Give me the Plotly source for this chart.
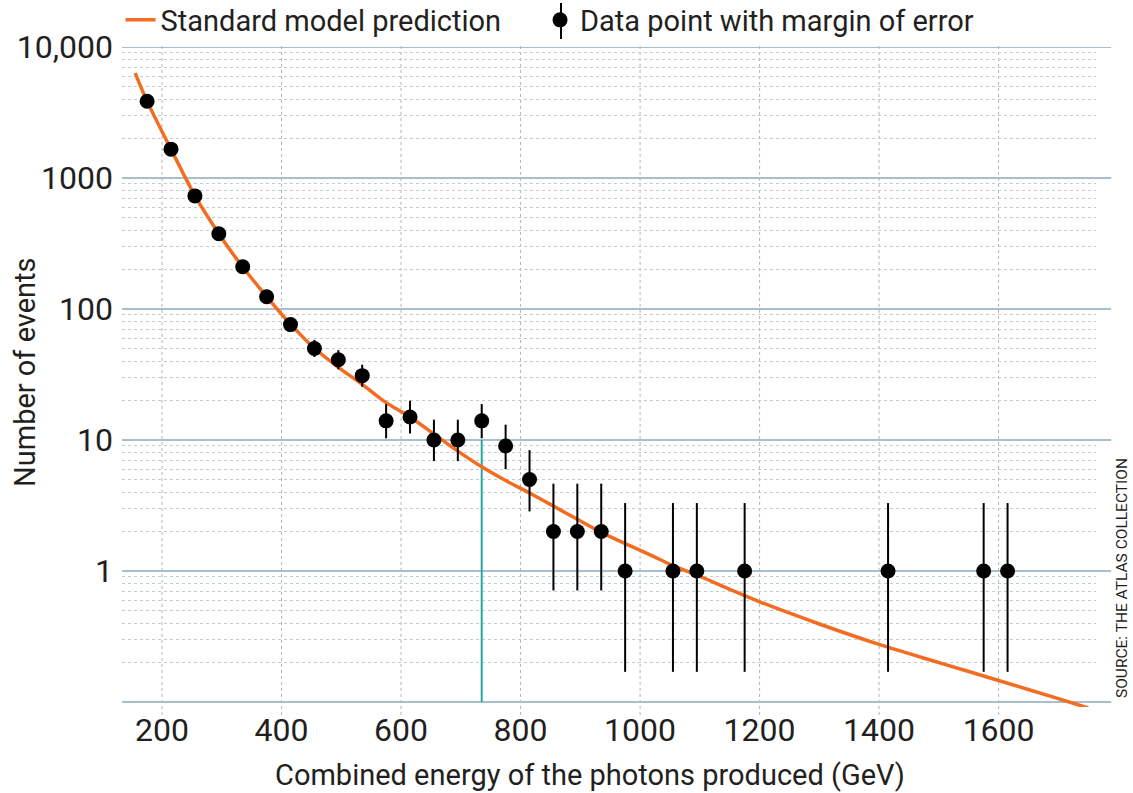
import plotly.graph_objects as go

# ---- data ----
energy = [175, 215, 255, 295, 335, 375, 415, 455, 495, 535, 575, 615, 655, 695,
          735, 775, 815, 855, 895, 935, 975, 1055, 1095, 1175, 1415, 1575, 1615]
events = [3850, 1660, 730, 375, 210, 124, 76, 50, 41, 31, 14, 15, 10, 10,
          14, 9, 5, 2, 2, 2, 1, 1, 1, 1, 1, 1, 1]
err_upper = [3913, 1701, 757.5, 395.4, 225.5, 136.2, 85.8, 58.1, 48.5, 37.6, 18.8, 19.95, 14.3, 14.3,
             18.8, 13.1, 8.37, 4.64, 4.64, 4.64, 3.30, 3.30, 3.30, 3.30, 3.30, 3.30, 3.30]
err_lower = [3788, 1620, 703.5, 355.6, 195.5, 112.9, 67.3, 43.0, 34.6, 25.5, 10.3, 11.2, 6.9, 6.9,
             10.3, 6.0, 2.85, 0.71, 0.71, 0.71, 0.17, 0.17, 0.17, 0.17, 0.17, 0.17, 0.17]

model_energy = [155, 175, 215, 255, 295, 335, 375, 415, 455, 495, 535, 575, 615, 655, 695,
                735, 775, 815, 855, 895, 935, 975, 1015, 1055, 1100, 1150, 1200, 1300, 1400,
                1500, 1600, 1700, 1750]
model_events = [6310, 3846, 1660, 733, 376, 209, 124.5, 76.7, 50.1, 35.9, 26.6, 19.3, 15.0, 11.1, 8.22,
                6.24, 4.90, 3.94, 3.13, 2.48, 1.97, 1.62, 1.34, 1.10, 0.912, 0.725, 0.582, 0.394, 0.275,
                0.200, 0.146, 0.106, 0.090]

highlight_energy = [735, 735]
highlight_events = [0.1, 10]

x_ticks = [200, 400, 600, 800, 1000, 1200, 1400, 1600]
y_ticks = [1, 10, 100, 1000, 10000]
y_ticktext = ["1", "10", "100", "1000", "10,000"]
y_major_lines = [0.1, 1, 10, 100, 1000, 10000]
y_minor = [m * 10 ** e for e in range(-1, 4) for m in range(2, 10)]

FONT = "Roboto"
TXT = "#231f20"
ORANGE = "#f26d21"
GRID = "#a8bfca"

fig = go.Figure()

# teal highlight line
fig.add_trace(go.Scatter(x=highlight_energy, y=highlight_events, mode="lines",
                         line=dict(color="#2aa6a2", width=2), showlegend=False,
                         hoverinfo="skip"))

fig.add_trace(go.Scatter(x=model_energy, y=model_events, mode="lines",
                         line=dict(color=ORANGE, width=3.5, shape="spline", smoothing=0.8),
                         name="Standard model prediction", legend="legend"))

err_plus = [u - v for u, v in zip(err_upper, events)]
err_minus = [v - l for v, l in zip(events, err_lower)]
fig.add_trace(go.Scatter(x=energy, y=events, mode="markers",
                         marker=dict(color="black", size=15),
                         error_y=dict(type="data", symmetric=False, array=err_plus,
                                      arrayminus=err_minus, color="black", thickness=2, width=0),
                         name="Data point with margin of error", legend="legend2"))

shapes = []
for v in x_ticks:
    shapes.append(dict(type="line", xref="x", yref="paper", x0=v, x1=v, y0=-0.012, y1=1.0045,
                       line=dict(color="#b4b4b4", width=1, dash="dot"), layer="below"))
for v in y_major_lines:
    shapes.append(dict(type="line", xref="paper", yref="y", x0=0, x1=1.0155, y0=v, y1=v,
                       line=dict(color=GRID, width=2), layer="below"))
# error-bar stroke on the legend symbol of the data series
shapes.append(dict(type="line", xref="paper", yref="paper", x0=0.4507, x1=0.4507,
                   y0=1.0121, y1=1.0667, line=dict(color="black", width=2), layer="above"))

legend_common = dict(orientation="h", xanchor="left", y=1.0409, yanchor="middle",
                     font=dict(size=29, color=TXT), itemwidth=30, bgcolor="rgba(0,0,0,0)")

fig.update_layout(
    width=1133, height=793, autosize=False,
    margin=dict(l=122, r=37, t=47, b=86, autoexpand=False),
    paper_bgcolor="white", plot_bgcolor="white",
    font=dict(family=FONT, color=TXT, size=29),
    shapes=shapes,
    showlegend=True,
    legend=dict(x=-0.0015, **legend_common),
    legend2=dict(x=0.4292, **legend_common),
    xaxis=dict(range=[133, 1763], tickvals=x_ticks, showgrid=False, zeroline=False,
               showline=False, ticks="", tickfont=dict(size=32, color=TXT), automargin=False,
               ticklabelstandoff=1),
    yaxis=dict(type="log", range=[-1.0382, 4], tickvals=y_ticks, ticktext=y_ticktext,
               showgrid=False, zeroline=False, showline=False, ticks="", automargin=False,
               tickfont=dict(size=32, color=TXT), ticklabelstandoff=8,
               minor=dict(tickvals=y_minor, showgrid=True, griddash="dot",
                          gridcolor="#bccfd9", gridwidth=1, ticks="")),
    annotations=[
        dict(text="SOURCE: THE ATLAS COLLECTION", xref="paper", yref="paper",
             x=1.0267, y=0.0106, xanchor="center", yanchor="bottom", textangle=-90,
             showarrow=False, font=dict(size=15.5, color=TXT)),
        dict(text="Combined energy of the photons produced (GeV)", xref="paper", yref="paper",
             x=0.4805, y=-0.103, xanchor="center", yanchor="middle", showarrow=False,
             font=dict(size=29, color=TXT)),
        dict(text="Number of events", xref="paper", yref="paper",
             x=-0.0996, y=0.5076, xanchor="center", yanchor="middle", textangle=-90,
             showarrow=False, font=dict(size=29, color=TXT)),
    ],
)

fig.write_html("out.html", config={"displayModeBar": False},
               post_script="document.body.style.margin='0';document.body.style.overflow='hidden';")
